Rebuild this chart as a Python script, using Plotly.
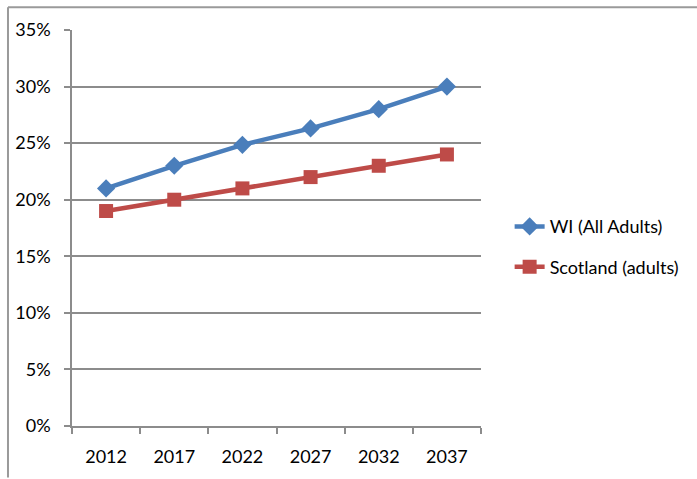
import plotly.graph_objects as go

years = ["2012", "2017", "2022", "2027", "2032", "2037"]
wi_all_adults = [0.21, 0.23, 0.2485, 0.263, 0.28, 0.30]
scotland_adults = [0.19, 0.20, 0.21, 0.22, 0.23, 0.24]

FONT = "Lato"
GREY = "#8c8c8c"

fig = go.Figure()
fig.add_trace(go.Scatter(
    x=years, y=wi_all_adults, name="WI (All Adults)", mode="lines+markers",
    line=dict(color="#4a7ebb", width=4.5),
    marker=dict(symbol="diamond", size=14, color="#4a7ebb"),
    legendgroup="a",
))
fig.add_trace(go.Scatter(
    x=years, y=scotland_adults, name="Scotland (adults)", mode="lines+markers",
    line=dict(color="#be4b48", width=4.5),
    marker=dict(symbol="square", size=14, color="#be4b48"),
    legendgroup="b",
))

# outer chart frame (top and left edges)
fig.add_shape(type="line", xref="paper", yref="paper",
              x0=-0.1565, x1=1.53, y0=1.0575, y1=1.0575,
              line=dict(color="#9a9a9a", width=2))
fig.add_shape(type="line", xref="paper", yref="paper",
              x0=-0.1565, x1=-0.1565, y0=1.0575, y1=-0.13,
              line=dict(color="#9a9a9a", width=2))

fig.update_layout(
    width=697, height=479,
    margin=dict(l=72, r=216, t=30, b=48),
    paper_bgcolor="white", plot_bgcolor="white",
    font=dict(family=FONT, size=18, color="black"),
    showlegend=True,
    legend=dict(x=1.07, y=0.55, xanchor="left", yanchor="top",
                tracegroupgap=14, font=dict(size=18),
                bgcolor="rgba(0,0,0,0)"),
    xaxis=dict(type="category", range=[-0.5, 5.5], tickson="boundaries",
               ticks="outside", ticklen=6, tickcolor=GREY, tickwidth=1.5,
               showline=True, linecolor=GREY, linewidth=1.5,
               showgrid=False, zeroline=False, ticklabelstandoff=14),
    yaxis=dict(range=[0, 0.35], dtick=0.05, tickformat=".0%",
               ticks="outside", ticklen=6, tickcolor=GREY, tickwidth=1.5,
               showline=True, linecolor=GREY, linewidth=1.5,
               showgrid=True, gridcolor=GREY, gridwidth=1.5,
               zeroline=False, ticklabelstandoff=10),
)

fig.write_html("out.html")
